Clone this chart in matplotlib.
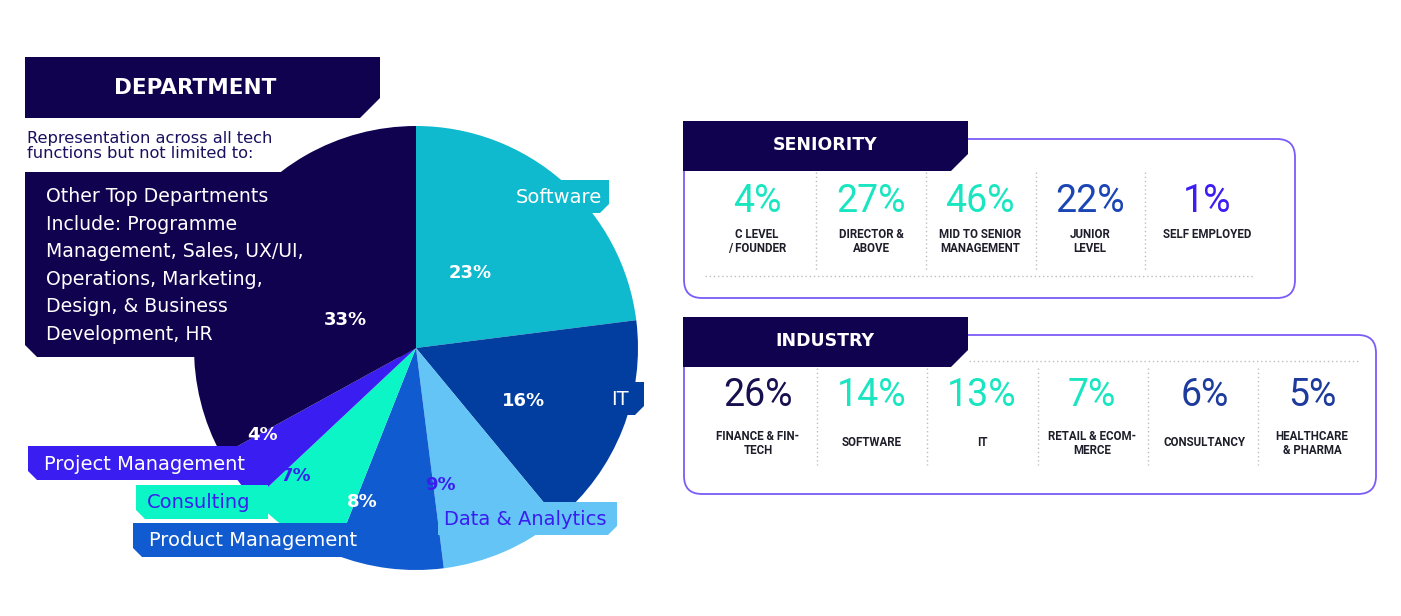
import matplotlib.pyplot as plt
from matplotlib.patches import Polygon, FancyBboxPatch

# ---------------------------------------------------------
# DATA
# ---------------------------------------------------------

dept_names = ["Software", "IT", "Data & Analytics", "Product Management",
              "Consulting", "Project Management", "Other"]
dept_share = [23, 16, 9, 8, 7, 4, 33]
dept_colors = ["#0FB9CE", "#023E9F", "#63C4F5", "#115BD0",
               "#0BF5C6", "#3A1DF0", "#10024F"]

other_text = ["Other Top Departments", "Include: Programme",
              "Management, Sales, UX/UI,", "Operations, Marketing,",
              "Design, & Business", "Development, HR"]

seniority_labels = ["C LEVEL\n/ FOUNDER", "DIRECTOR &\nABOVE",
                    "MID TO SENIOR\nMANAGEMENT", "JUNIOR\nLEVEL", "SELF EMPLOYED"]
seniority_values = [4, 27, 46, 22, 1]

industry_labels = ["FINANCE & FIN-\nTECH", "SOFTWARE", "IT",
                   "RETAIL & ECOM-\nMERCE", "CONSULTANCY", "HEALTHCARE\n& PHARMA"]
industry_values = [26, 14, 13, 7, 6, 5]

# ---------------------------------------------------------
# LAYOUT / STYLE
# ---------------------------------------------------------

NAVY = "#10024F"
MINT = "#19E6C1"
OUTLINE = "#7B5CF8"
FONT = "DejaVu Sans"

pie_center = (416, 348)
pie_radius = 222

# percentage label positions (px) and colours
pct_pos = [(470, 273), (523, 401), (440, 485), (362, 502), (296, 476), (262, 435), (345, 320)]
pct_colors = ["white", "white", "#3A1DF0", "white", "#3A1DF0", "white", "white"]

# name tags: (x0, x1, y0, y1, side of chamfer, text x, text colour, text align)
tags = [
    (500, 609, 180, 213, "right", 602, "white", "right"),
    (590, 644, 382, 415, "right", 629, "white", "right"),
    (438, 617, 502, 535, "right", 444, "#3A1DF0", "left"),
    (133, 380, 523, 557, "left", 149, "white", "left"),
    (136, 268, 485, 519, "left", 147, "#3A1DF0", "left"),
    (28, 250, 446, 480, "left", 44, "white", "left"),
]

sen_x = [757, 871, 980, 1090, 1207]
sen_colors = [MINT, MINT, MINT, "#1B45B5", "#3D1EF2"]
sen_sep = [816, 926, 1036, 1145]

ind_x = [758, 872, 982, 1092, 1205, 1312]
ind_colors = ["#160F50", MINT, MINT, MINT, "#1D3B9C", "#1D3B9C"]
ind_sep = [817, 927, 1038, 1148, 1258]


def chamfer_box(ax, x0, x1, y0, y1, color, side="left", c=9, z=3):
    if side == "left":
        pts = [(x0, y0), (x1, y0), (x1, y1), (x0 + c, y1), (x0, y1 - c)]
    else:
        pts = [(x0, y0), (x1, y0), (x1, y1 - c), (x1 - c, y1), (x0, y1)]
    ax.add_patch(Polygon(pts, closed=True, facecolor=color, edgecolor="none", zorder=z))


# ---------------------------------------------------------
# FIGURE
# ---------------------------------------------------------

fig = plt.figure(figsize=(14.01, 6.16), dpi=100)
ax = fig.add_axes([0, 0, 1, 1])

# y axis is flipped, so start at -90 and go counterclockwise in data
wedges, _ = ax.pie(dept_share, colors=dept_colors, startangle=-90,
                   center=pie_center, radius=pie_radius,
                   wedgeprops=dict(linewidth=0))
for w in wedges:
    w.set_zorder(2)

ax.set_xlim(0, 1401)
ax.set_ylim(616, 0)
ax.set_aspect("equal")
ax.axis("off")

# department header
chamfer_box(ax, 25, 380, 57, 118, NAVY, side="right", c=20, z=4)
ax.text(195, 88, "DEPARTMENT", color="white", fontsize=15.5, fontweight="bold",
        ha="center", va="center", family=FONT, zorder=5)

ax.text(27, 146, "Representation across all tech\nfunctions but not limited to:",
        color="#1A1060", fontsize=11.7, ha="left", va="center", family=FONT,
        linespacing=0.95, zorder=5)

# box with other departments
ax.add_patch(Polygon([(25, 172), (416, 172), (416, 348), (400, 357), (37, 357), (25, 345)],
                     closed=True, facecolor=NAVY, edgecolor="none", zorder=3))
for i, line in enumerate(other_text):
    ax.text(46, 197 + i * 27.4, line, color="white", fontsize=13.6, ha="left",
            va="center", family=FONT, zorder=5)

# name tags
for (x0, x1, y0, y1, side, tx, tc, ha), name in zip(tags, dept_names[:6]):
    color = dept_colors[dept_names.index(name)]
    chamfer_box(ax, x0, x1, y0, y1, color, side=side, c=9, z=4)
    ax.text(tx, (y0 + y1) / 2 + 1, name, color=tc, fontsize=14, ha=ha,
            va="center", family=FONT, zorder=5)

# percentages on the pie
for (px, py), v, c in zip(pct_pos, dept_share, pct_colors):
    ax.text(px, py, f"{v}%", color=c, fontsize=13, fontweight="bold",
            ha="center", va="center", family=FONT, zorder=6)


# ---------------------------------------------------------
# SENIORITY / INDUSTRY PANELS
# ---------------------------------------------------------

def panel(ax, x0, x1, y0, y1, hy0, hy1, title):
    ax.add_patch(FancyBboxPatch((x0, y0), x1 - x0, y1 - y0,
                                boxstyle="round,pad=0,rounding_size=18",
                                facecolor="white", edgecolor=OUTLINE,
                                linewidth=1.3, zorder=2))
    chamfer_box(ax, 683, 968, hy0, hy1, NAVY, side="right", c=17, z=4)
    ax.text(825, (hy0 + hy1) / 2 - 1, title, color="white", fontsize=12.5,
            fontweight="bold", ha="center", va="center", family=FONT, zorder=5)


panel(ax, 684, 1295, 139, 298, 121, 171, "SENIORITY")
panel(ax, 684, 1376, 335, 494, 317, 367, "INDUSTRY")

for x in sen_sep:
    ax.plot([x, x], [172, 270], color="#BDBDBD", lw=1, ls=(0, (1, 2)), zorder=3)
ax.plot([705, 1255], [276, 276], color="#BDBDBD", lw=1, ls=(0, (1, 2)), zorder=3)

for x, v, lab, c in zip(sen_x, seniority_values, seniority_labels, sen_colors):
    ax.text(x, 201, f"{v}%", color=c, fontsize=27, fontweight="normal",
            ha="center", va="center", family="Roboto", zorder=5)
    ax.text(x, 228, lab, color="#1E1E2A", fontsize=8.3, fontweight="bold",
            ha="center", va="top", family="Roboto", linespacing=1.1, zorder=5)

for x in ind_sep:
    ax.plot([x, x], [368, 465], color="#BDBDBD", lw=1, ls=(0, (1, 2)), zorder=3)
ax.plot([969, 1359], [361, 361], color="#BDBDBD", lw=1, ls=(0, (1, 2)), zorder=3)

for x, v, lab, c in zip(ind_x, industry_values, industry_labels, ind_colors):
    ax.text(x, 396, f"{v}%", color=c, fontsize=27, fontweight="normal",
            ha="center", va="center", family="Roboto", zorder=5)
    ax.text(x, 443, lab, color="#1E1E2A", fontsize=8.3, fontweight="bold",
            ha="center", va="center", family="Roboto", linespacing=1.1, zorder=5)

fig.savefig("out.png", dpi=100, facecolor="white")
